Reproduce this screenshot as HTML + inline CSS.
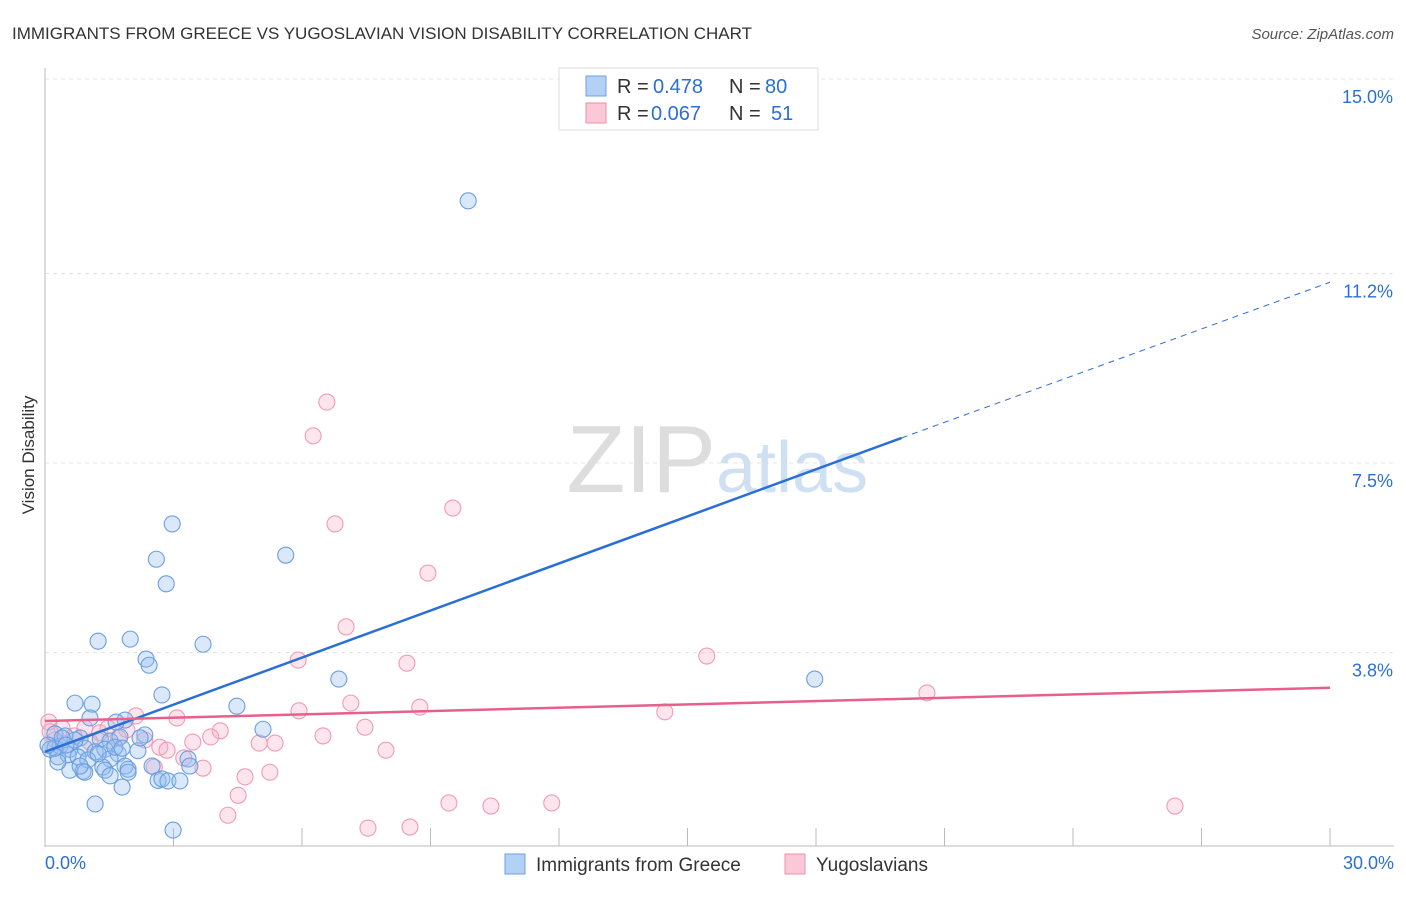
<!DOCTYPE html>
<html><head><meta charset="utf-8"><style>
body{margin:0;background:#fff;font-family:"Liberation Sans",sans-serif;}
svg text{font-family:"Liberation Sans",sans-serif;}
</style></head><body>
<svg id="chart" width="1406" height="892">
<text x="12" y="39" font-size="17" fill="#333">IMMIGRANTS FROM GREECE VS YUGOSLAVIAN VISION DISABILITY CORRELATION CHART</text>
<text x="1394" y="39" font-size="15" fill="#555" font-style="italic" text-anchor="end">Source: ZipAtlas.com</text>
<text x="34" y="455" font-size="17" fill="#333" transform="rotate(-90 34 455)" text-anchor="middle">Vision Disability</text>
<g id="grid"></g>
<text x="716" y="492" font-size="96" fill="#ddd" text-anchor="end" font-family="Liberation Serif">ZIP</text>
<text x="716" y="492" font-size="72" fill="#cfe0f3">atlas</text>
<g id="pts"></g>
<g id="lines"></g>
<g>
<rect x="559" y="68" width="259" height="62" fill="#fff" stroke="#ddd"/>
<rect x="586" y="76" width="20" height="20" fill="#b3d0f5" stroke="#6fa0e0"/>
<rect x="586" y="103" width="20" height="20" fill="#fbc8d7" stroke="#f08cab"/>
<text x="617" y="93" font-size="20" fill="#333">R =</text>
<text x="653" y="93" font-size="20" fill="#2a6fd6">0.478</text>
<text x="729" y="93" font-size="20" fill="#333">N =</text>
<text x="765" y="93" font-size="20" fill="#2a6fd6">80</text>
<text x="617" y="120" font-size="20" fill="#333">R =</text>
<text x="651" y="120" font-size="20" fill="#2a6fd6">0.067</text>
<text x="729" y="120" font-size="20" fill="#333">N =</text>
<text x="771" y="120" font-size="20" fill="#2a6fd6">51</text>
</g>
<g>
<rect x="505" y="854" width="20" height="20" fill="#b3d0f5" stroke="#6fa0e0"/>
<text x="536" y="871" font-size="19" fill="#333">Immigrants from Greece</text>
<rect x="785" y="854" width="20" height="20" fill="#fbc8d7" stroke="#f08cab"/>
<text x="816" y="871" font-size="19" fill="#333">Yugoslavians</text>
</g>
</svg>
<script>
const yTicks=[3.8,7.5,11.2,15.0];
const xTickLabels=["0.0%","30.0%"];
const blueX=[9.88,2.97,2.6,5.62,2.83,1.24,1.99,3.69,2.36,2.43,2.73,6.86,17.97,0.7,1.1,4.48,1.05,1.87,1.66,5.09,2.33,0.23,0.47,0.82,1.29,1.52,1.75,0.12,0.35,0.58,0.93,1.17,1.4,1.71,2.17,0.3,0.54,0.77,1.0,1.52,1.87,2.5,3.34,3.38,0.58,0.89,1.35,1.94,0.3,0.93,1.4,1.94,1.52,2.64,2.73,2.87,3.15,1.8,1.17,2.99,0.23,0.7,1.24,1.63,0.4,0.07,2.22,0.82,1.8,0.49];
const blueY=[12.62,6.31,5.62,5.7,5.14,4.02,4.06,3.96,3.67,3.55,2.97,3.28,3.28,2.81,2.79,2.75,2.52,2.48,2.44,2.3,2.19,2.21,2.17,2.13,2.11,2.07,2.15,1.91,1.97,1.91,1.93,1.86,1.91,1.82,1.88,1.76,1.8,1.76,1.7,1.72,1.58,1.58,1.72,1.58,1.5,1.48,1.56,1.52,1.66,1.46,1.5,1.46,1.39,1.3,1.33,1.29,1.29,1.17,0.84,0.33,1.93,2.09,1.82,1.95,2.13,1.99,2.13,1.58,1.93,1.99];
const pinkX=[6.58,6.26,9.52,6.77,8.94,7.03,5.91,8.45,15.45,20.59,7.14,8.75,5.93,14.47,3.08,2.12,0.09,0.4,0.93,1.91,4.09,3.87,1.71,6.49,7.47,5.0,5.37,3.45,2.68,2.85,7.96,3.24,2.55,3.69,4.67,5.25,4.51,9.43,10.41,11.83,26.38,4.27,7.54,8.52,1.28,0.68,0.23,1.05,2.33,1.47,0.12];
const pinkY=[8.69,8.03,6.62,6.31,5.35,4.3,3.65,3.59,3.73,3.01,2.81,2.73,2.66,2.64,2.52,2.56,2.44,2.32,2.32,2.29,2.27,2.15,2.13,2.17,2.34,2.03,2.03,2.05,1.95,1.89,1.89,1.74,1.56,1.54,1.37,1.46,1.01,0.86,0.8,0.86,0.8,0.62,0.37,0.39,2.23,2.17,2.09,2.05,2.09,2.32,2.25];
const blueLine=[0,1.86,20,7.99,30,11.03];
const pinkLine=[0,2.46,30,3.11];
const NS="http://www.w3.org/2000/svg";
const X=v=>45+v/30*1285, Y=v=>847-v/3.75*192;
function mk(t,a,p){const e=document.createElementNS(NS,t);for(const k in a)e.setAttribute(k,a[k]);p.appendChild(e);return e;}
const grid=document.getElementById('grid');
for(const t of yTicks){
 const l=mk('line',{x1:45,x2:1394,y1:Y(t),y2:Y(t),stroke:'#e4e4e4','stroke-dasharray':'4,4'},grid);
 
 
 const tx=mk('text',{x:1393,y:Y(t)+24,'font-size':18,fill:'#2a6fd6','text-anchor':'end'},grid);
 tx.textContent=t.toFixed(1)+'%';
 
 
}
const ax=mk('line',{x1:45,x2:45,y1:68,y2:847,stroke:'#bbb'},grid);


const bx=mk('line',{x1:45,x2:1394,y1:846,y2:846,stroke:'#bbb'},grid);


for(let i=1;i<=10;i++){const xx=45+i*128.5;const tk=mk('line',{x1:xx,x2:xx,y1:828,y2:846,stroke:'#bbb'},grid);
 
 }
xTickLabels.forEach((s,i)=>{const tx=mk('text',{x:i?1394:45,y:869,'font-size':18,fill:'#2a6fd6','text-anchor':i?'end':'start'},grid);tx.textContent=s;
 
 });
const pts=document.getElementById('pts');
pinkX.forEach((x,i)=>{const c=mk('circle',{cx:X(x),cy:Y(pinkY[i]),r:8,fill:'rgba(248,170,195,0.3)',stroke:'#f29ab5','stroke-width':1.1},pts);
 
 });
blueX.forEach((x,i)=>{const c=mk('circle',{cx:X(x),cy:Y(blueY[i]),r:8,fill:'rgba(150,190,240,0.35)',stroke:'#6a9fe0','stroke-width':1.1},pts);
 
 });
const lines=document.getElementById('lines');
const b1=mk('line',{x1:X(blueLine[0]),y1:Y(blueLine[1]),x2:X(blueLine[2]),y2:Y(blueLine[3]),stroke:'#2a6fd6','stroke-width':2.5},lines);


const b2=mk('line',{x1:X(blueLine[2]),y1:Y(blueLine[3]),x2:X(blueLine[4]),y2:Y(blueLine[5]),stroke:'#2a6fd6','stroke-width':1,'stroke-dasharray':'6,5'},lines);


const p1=mk('line',{x1:X(pinkLine[0]),y1:Y(pinkLine[1]),x2:X(pinkLine[2]),y2:Y(pinkLine[3]),stroke:'#e8608a','stroke-width':2.5},lines);


</script>
</body></html>
